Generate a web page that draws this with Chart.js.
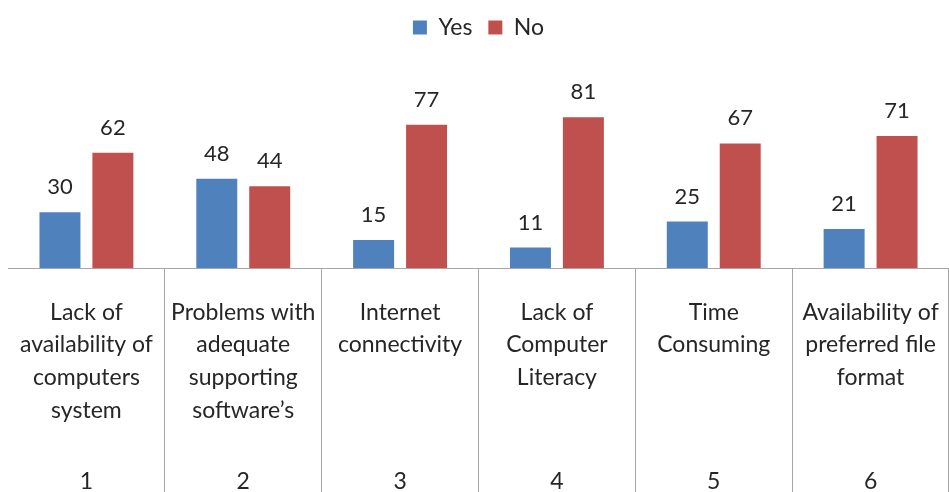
<!DOCTYPE html>
<html>
<head>
<meta charset="utf-8">
<script src="https://cdn.jsdelivr.net/npm/chart.js@4.4.0/dist/chart.umd.min.js"></script>
<style>
  html, body { margin: 0; padding: 0; background: #fff; }
  #wrap { width: 949px; height: 492px; }
</style>
</head>
<body>
<div id="wrap"><canvas id="chart"></canvas></div>
<script>
// категории и значения
const categories = [
  ['Lack of', 'availability of', 'computers', 'system'],
  ['Problems with', 'adequate', 'supporting', 'software\u2019s'],
  ['Internet', 'connectivity'],
  ['Lack of', 'Computer', 'Literacy'],
  ['Time', 'Consuming'],
  ['Availability of', 'preferred file', 'format']
];
const categoryNumbers = ['1', '2', '3', '4', '5', '6'];
const yesValues = [30, 48, 15, 11, 25, 21];
const noValues = [62, 44, 77, 81, 67, 71];

const FONT = 'Lato';
const TEXT = '#262626';

// подписи значений над столбцами
const valueLabels = {
  id: 'valueLabels',
  afterDatasetsDraw(chart) {
    const ctx = chart.ctx;
    ctx.save();
    ctx.font = '22px ' + FONT;
    ctx.fillStyle = TEXT;
    ctx.textAlign = 'center';
    ctx.textBaseline = 'bottom';
    chart.data.datasets.forEach((ds, i) => {
      chart.getDatasetMeta(i).data.forEach((bar, j) => {
        ctx.fillText(ds.data[j], bar.x, bar.y - 14);
      });
    });
    ctx.restore();
  }
};

// номера категорий внизу
const categoryIndex = {
  id: 'categoryIndex',
  afterDraw(chart) {
    const ctx = chart.ctx;
    const x = chart.scales.x;
    ctx.save();
    ctx.font = '23px ' + FONT;
    ctx.fillStyle = TEXT;
    ctx.textAlign = 'center';
    ctx.textBaseline = 'middle';
    categoryNumbers.forEach((n, i) => {
      ctx.fillText(n, x.getPixelForValue(i), chart.height - 10);
    });
    ctx.restore();
  }
};

// отступ под легендой
const legendMargin = {
  id: 'legendMargin',
  beforeInit(chart) {
    const fit = chart.legend.fit;
    chart.legend.fit = function () {
      fit.bind(chart.legend)();
      this.height += 33;
    };
  }
};

new Chart(document.getElementById('chart'), {
  type: 'bar',
  data: {
    labels: categories,
    datasets: [
      {
        label: 'Yes',
        data: yesValues,
        backgroundColor: '#4F81BD',
        categoryPercentage: 0.675,
        barPercentage: 0.774
      },
      {
        label: 'No',
        data: noValues,
        backgroundColor: '#C0504D',
        categoryPercentage: 0.675,
        barPercentage: 0.774
      }
    ]
  },
  options: {
    responsive: true,
    maintainAspectRatio: false,
    animation: false,
    layout: { padding: { left: 8, right: 0, top: 0, bottom: 0 } },
    plugins: {
      legend: {
        position: 'top',
        labels: {
          boxWidth: 14,
          boxHeight: 14,
          padding: 16,
          color: TEXT,
          font: { family: FONT, size: 23 }
        }
      },
      tooltip: { enabled: false }
    },
    scales: {
      x: {
        grid: {
          offset: true,
          drawOnChartArea: false,
          drawTicks: true,
          tickLength: 224,
          color: ctx => ctx.index === 0 ? 'rgba(0,0,0,0)' : '#A6A6A6'
        },
        border: { display: true, color: '#A6A6A6', width: 1 },
        ticks: {
          color: TEXT,
          font: { family: FONT, size: 23, lineHeight: 1.42 },
          padding: -196,
          maxRotation: 0,
          autoSkip: false
        },
        afterFit: s => { s.height = 224; }
      },
      y: {
        display: false,
        min: 0,
        max: 100
      }
    }
  },
  plugins: [valueLabels, categoryIndex, legendMargin]
});
</script>
</body>
</html>
